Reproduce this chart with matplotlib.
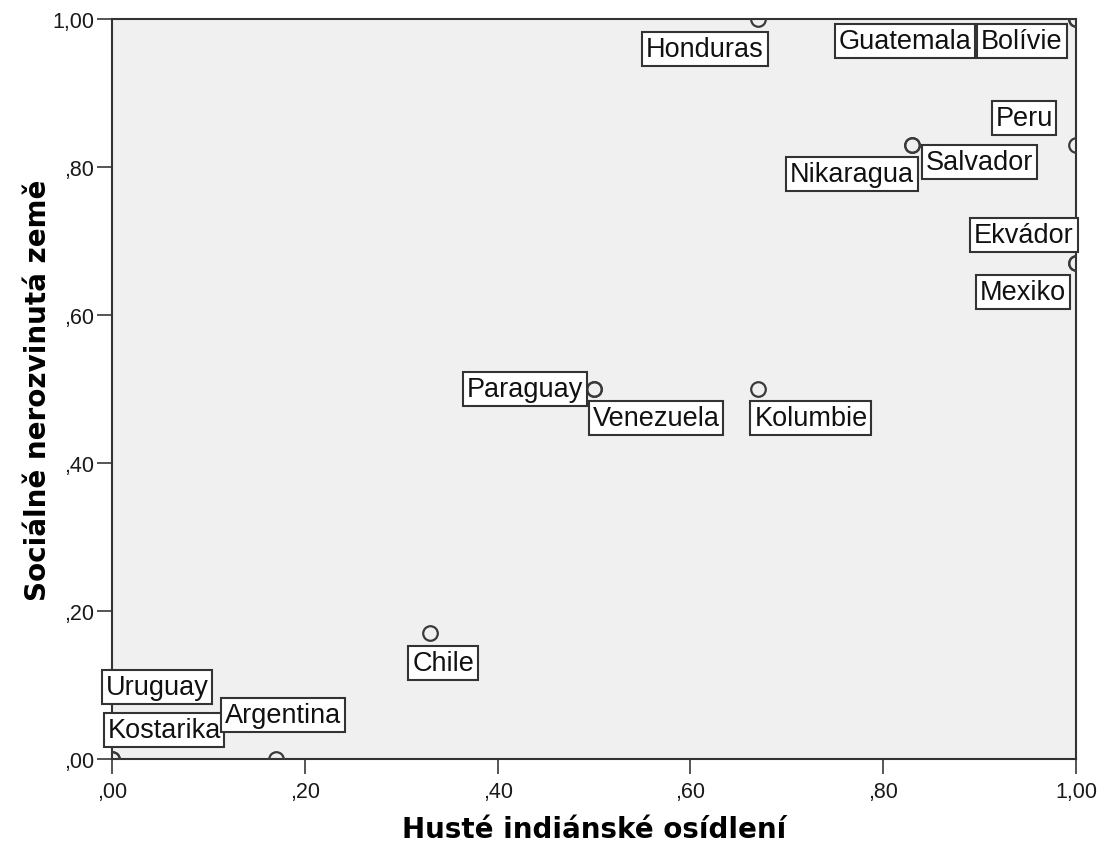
import matplotlib
matplotlib.use("Agg")
import matplotlib.pyplot as plt

countries = ["Honduras", "Guatemala", "Bolívie", "Peru", "Nikaragua", "Salvador",
             "Ekvádor", "Mexiko", "Paraguay", "Venezuela", "Kolumbie", "Chile",
             "Uruguay", "Kostarika", "Argentina"]
x_vals = [0.67, 1.0, 1.0, 1.0, 0.83, 0.83, 1.0, 1.0, 0.5, 0.5, 0.67, 0.33, 0.0, 0.0, 0.17]
y_vals = [1.0, 1.0, 1.0, 0.83, 0.83, 0.83, 0.67, 0.67, 0.5, 0.5, 0.5, 0.17, 0.0, 0.0, 0.0]
tick_vals = [0.0, 0.2, 0.4, 0.6, 0.8, 1.0]
tick_labels = [",00", ",20", ",40", ",60", ",80", "1,00"]
x_title = "Husté indiánské osídlení"
y_title = "Sociálně nerozvinutá země"

# label offsets (pixels; +y up)
label_offsets = {
    "Honduras": (-53, -30), "Guatemala": (-171, -22), "Bolívie": (-54, -22),
    "Peru": (-52, 27), "Nikaragua": (-60, -29), "Salvador": (67, -17),
    "Ekvádor": (-52, 28), "Mexiko": (-53, -29), "Paraguay": (-69, 0),
    "Venezuela": (62, -29), "Kolumbie": (53, -29), "Chile": (13, -30),
    "Uruguay": (45, 72), "Kostarika": (52, 29), "Argentina": (7, 44),
}

fig = plt.figure(figsize=(11.02, 8.45), dpi=100)
ax = fig.add_axes([112/1102, 85/845, 964/1102, 740/845])
ax.set_facecolor("#F0F0F0")
ax.set_xlim(0, 1)
ax.set_ylim(0, 1)

ax.plot(x_vals, y_vals, linestyle="none", marker="o", markersize=10.5,
        markerfacecolor="none", markeredgecolor="#3a3a3a", markeredgewidth=1.6, zorder=3)

for name, xv, yv in zip(countries, x_vals, y_vals):
    dx, dy = label_offsets[name]
    ax.annotate(name, (xv, yv), xytext=(dx, dy), textcoords="offset pixels",
                ha="center", va="center", fontsize=19.5, family="Liberation Sans",
                color="#111111", annotation_clip=False, zorder=4,
                bbox=dict(boxstyle="square,pad=0.14", facecolor="white",
                          edgecolor="#333333", linewidth=1.5))

ax.set_xticks(tick_vals)
ax.set_xticklabels(tick_labels)
ax.set_yticks(tick_vals)
ax.set_yticklabels(tick_labels)
ax.tick_params(direction="out", length=11, width=1.4, color="#555555",
               labelsize=15.5, labelcolor="#1a1a1a")
ax.tick_params(axis="x", pad=5)
ax.tick_params(axis="y", pad=2)
for lab in ax.get_xticklabels() + ax.get_yticklabels():
    lab.set_family("Liberation Sans")
for sp in ax.spines.values():
    sp.set_color("#333333")
    sp.set_linewidth(1.5)

ax.set_xlabel(x_title, fontsize=20, fontweight="bold", family="DejaVu Sans", labelpad=9)
ax.set_ylabel(y_title, fontsize=20, fontweight="bold", family="DejaVu Sans", labelpad=0)

fig.savefig("out.png", dpi=100)
